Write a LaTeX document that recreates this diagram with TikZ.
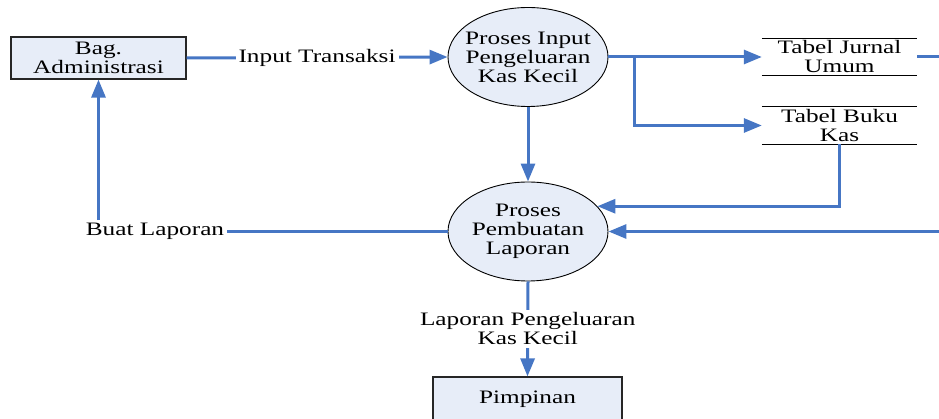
\documentclass[tikz,border=0pt]{standalone}
\usepackage{fontspec}
\setmainfont{Liberation Serif}[FakeStretch=1.33]
\usepackage{tikz}
\usetikzlibrary{shapes.geometric, arrows.meta, positioning}
\tikzset{>={Triangle[length=18pt, width=14pt]}}
\definecolor{flowblue}{RGB}{70,118,196}
\definecolor{shapefill}{RGB}{231,237,248}
\newcommand{\dfdfont}{\fontsize{19}{19}\selectfont}

\begin{document}
\begin{tikzpicture}[
  x=1pt, y=-1pt,
  entity/.style={rectangle, draw=black!85, line width=1.2pt, fill=shapefill, align=center, inner sep=0pt, font=\dfdfont},
  process/.style={ellipse, draw=black, line width=0.9pt, fill=shapefill, align=center, minimum width=160pt, minimum height=99pt, inner xsep=-20pt, inner ysep=-5pt, font=\dfdfont},
  store/.style={rectangle, minimum width=155pt, minimum height=37pt, align=center, inner sep=0pt, font=\dfdfont},
  storeline/.style={line width=0.9pt, black},
  flow/.style={line width=3pt, flowblue},
  flowlabel/.style={fill=white, text=black, inner sep=3pt, align=center, font=\dfdfont}
]

% Frame of the picture
\clip (0,0) rectangle (939,419);

% External entities
\node[entity, minimum width=175pt, minimum height=42pt] (admin) at (98.5,58) {Bag.\\Administrasi};
\node[entity, minimum width=189pt, minimum height=44pt] (pimpinan) at (527.5,399) {Pimpinan};

% Processes
\node[process] (pInput) at (528,57) {Proses Input\\Pengeluaran\\Kas Kecil};
\node[process] (pLaporan) at (528,231.5) {Proses\\Pembuatan\\Laporan};

% Data stores (open rectangles)
\node[store] (jurnal) at (839.5,57) {Tabel Jurnal\\Umum};
\node[store] (bukukas) at (839.5,125.5) {Tabel Buku\\Kas};
\draw[storeline] (jurnal.north west) -- (jurnal.north east) (jurnal.south west) -- (jurnal.south east);
\draw[storeline] (bukukas.north west) -- (bukukas.north east) (bukukas.south west) -- (bukukas.south east);

% Input flow
\draw[flow,->] (admin.east) -- (pInput.west) node[flowlabel, midway] (lblInput) {Input Transaksi};

% Saving into the tables
\coordinate (fork) at (634,57);
\draw[flow,->] (pInput.east) -- (jurnal.west);
\draw[flow,->] (fork) |- (bukukas.west);
\draw[flow,->] (pInput.south) -- (pLaporan.north);

% Tables read by the report process
\draw[flow,->] (bukukas.south) |- (pLaporan.20);
\draw[flow,->] (jurnal.east) -- ++(40,0) |- (pLaporan.east);

% Report back to administration
\node[flowlabel] (buat) at (155,231.5) {Buat Laporan};
\draw[flow] (pLaporan.west) -- (buat.east);
\draw[flow,->] (buat.north -| admin.south) -- (admin.south);

% Report to the head
\draw[flow,->] (pLaporan.south) -- (pimpinan.north) node[flowlabel, midway] (lblLap) {Laporan Pengeluaran\\Kas Kecil};

\end{tikzpicture}
\end{document}
